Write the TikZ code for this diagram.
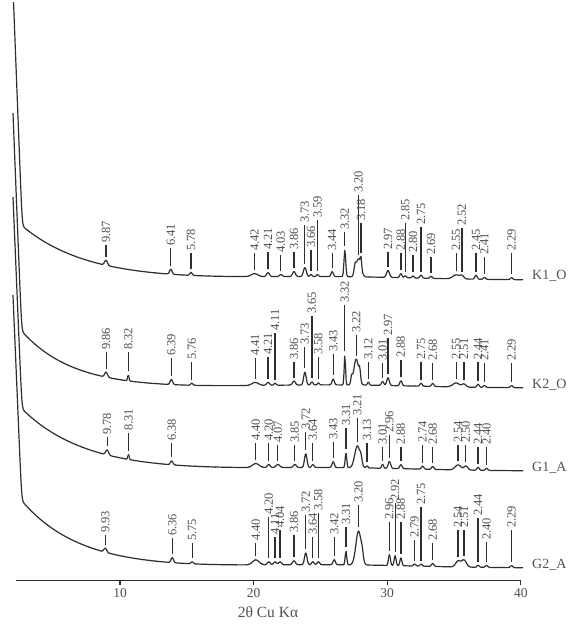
\documentclass[tikz,border=0pt]{standalone}
\usepackage{fontspec}
\setmainfont{Liberation Serif}
\definecolor{trace}{HTML}{2E2E2E}
\definecolor{tagtext}{HTML}{505050}
\tikzset{
  trace line/.style={draw=trace, line width=1.2pt, line join=round, line cap=round},
  peak mark/.style={draw=trace, line width=1.2pt},
  axis line/.style={draw=trace, line width=1.2pt},
  peak tag/.style={rotate=90, anchor=west, inner sep=1.5pt, text=tagtext, font=\fontsize{12.5}{14}\selectfont},
  sample tag/.style={anchor=west, inner sep=0pt, text=tagtext, font=\fontsize{14}{16}\selectfont},
  axis tag/.style={inner sep=0pt, text=tagtext, font=\fontsize{13.5}{15}\selectfont}
}
\newcommand\preppeaks[1]{%
  \gdef\tlist{0/0/1/-9/-9}%
  \foreach \d/\h/\w/\a in #1{%
    \pgfmathsetmacro\tpos{2*asin(0.7703/\d)}%
    \pgfmathsetmacro\tlo{\tpos-3*\w}%
    \pgfmathsetmacro\thi{\tpos+3*\w}%
    \xdef\tlist{\tlist,\tpos/\h/\w/\tlo/\thi}}}
\newcommand\nearsum[2]{%
  \gdef\peaksum{0}\gdef\npk{0}%
  \foreach \t/\h/\w/\tlo/\thi in \tlist{%
    \ifdim\thi pt>#1pt\relax\ifdim\tlo pt<#2pt\relax
      \xdef\peaksum{\unexpanded\expandafter{\peaksum}+\h*exp(-min(pow((\noexpand\x-\t)/\w,2),9))}%
      \gdef\npk{1}%
    \fi\fi}}
\newcommand\drawtrace{%
  \begin{scope}
    \clip (0,\ytop) rectangle (574,624);
    \draw[trace line] plot[domain=1.9:3.15, samples=45] ({13.36*\x-13.6},{\bgfull});
  \end{scope}
  \foreach \lo in {3.15,3.65,...,39.65}{%
    \pgfmathsetmacro\hi{\lo+0.5}%
    \nearsum{\lo}{\hi}%
    \ifnum\npk=1 \def\ns{10}\else\def\ns{3}\fi
    \draw[trace line] plot[domain=\lo:\hi, samples=\ns] ({13.36*\x-13.6},{\bg-(\peaksum)});}}
\newcommand\drawtags[1]{%
  \foreach \d/\h/\w/\a in #1{%
    \ifdim\a pt>0pt\relax
      \pgfmathsetmacro\x{2*asin(0.7703/\d)}%
      \pgfmathsetmacro\xl{\x-0.01}\pgfmathsetmacro\xh{\x+0.01}%
      \nearsum{\xl}{\xh}%
      \pgfmathsetmacro\xpos{13.36*\x-13.6}%
      \pgfmathsetmacro\ybot{\bg-(\peaksum)-3.5}%
      \draw[peak mark] (\xpos,\ybot) -- (\xpos,\a) node[peak tag] {\d};
    \fi}}
\begin{document}
\begin{tikzpicture}[x=1pt, y=-1pt,
  declare function={ramp(\myt,\myk)=0.04*(max((\myk-\myt)/0.04,0)+ln(1+exp(-min(abs((\myk-\myt)/0.04),9))));
                    decay(\myt,\mys)=exp(max((2.6-\myt)/\mys,-9));
                    hump(\myt)=3*exp(-pow((\myt-26)/9,2));}]
\useasboundingbox (0,0) rectangle (574,624);
\def\listKone{9.87/5/0.15/245, 6.41/5/0.13/248, 5.78/3/0.12/253, 4.42/3/0.35/253, 4.21/4/0.15/252, 4.03/2/0.15/255, 3.86/5/0.15/252, 3.73/9/0.15/225, 3.66/2/0.1/250, 3.59/2/0.1/220, 3.44/5/0.12/253, 3.32/27/0.09/232, 3.23/8/0.1/0, 3.20/18/0.25/195, 3.18/10/0.07/223, 2.97/7/0.15/252, 2.88/4/0.12/253, 2.85/2/0.1/223, 2.80/2/0.1/255, 2.75/3/0.12/227, 2.69/2/0.12/257, 2.55/4/0.35/253, 2.52/3/0.2/228, 2.45/4/0.12/253, 2.41/2/0.12/257, 2.29/2/0.12/253}
\def\listKtwo{9.86/5/0.15/352, 8.32/6/0.07/352, 6.39/5/0.13/358, 5.76/2/0.12/362, 4.41/3/0.35/358, 4.21/3/0.15/357, 4.11/2/0.12/333, 3.86/4/0.15/362, 3.73/13/0.13/347, 3.65/3/0.12/316, 3.58/2/0.1/357, 3.43/6/0.12/354, 3.32/30/0.07/305, 3.26/7/0.08/0, 3.22/26/0.25/335, 3.19/10/0.08/0, 3.12/3/0.1/362, 3.01/4/0.12/363, 2.97/8/0.13/338, 2.88/5/0.12/360, 2.75/3/0.12/362, 2.68/3/0.12/363, 2.55/4/0.35/362, 2.51/3/0.2/362, 2.44/3/0.12/362, 2.41/2/0.12/363, 2.29/2/0.12/363}
\def\listGone{9.78/5/0.15/437, 8.31/5/0.07/433, 6.38/4/0.13/443, 4.40/4/0.35/443, 4.20/3/0.15/443, 4.07/3/0.2/445, 3.85/3/0.15/445, 3.72/14/0.13/432, 3.64/3/0.12/443, 3.43/6/0.12/442, 3.31/15/0.08/428, 3.21/22/0.28/418, 3.18/6/0.1/0, 3.13/2/0.1/443, 3.01/4/0.1/447, 2.96/7/0.13/435, 2.88/4/0.12/447, 2.74/3/0.12/445, 2.68/3/0.12/447, 2.54/5/0.3/445, 2.50/4/0.2/445, 2.44/3/0.12/447, 2.40/2/0.12/447}
\def\listGtwo{9.93/4/0.15/535, 6.36/5/0.13/538, 5.75/2/0.12/543, 4.40/5/0.35/543, 4.20/3/0.15/517, 4.11/3/0.15/537, 4.04/3/0.15/530, 3.86/4/0.15/535, 3.72/12/0.13/515, 3.64/3/0.12/537, 3.58/3/0.12/513, 3.42/5/0.12/537, 3.31/14/0.08/527, 3.20/34/0.28/505, 3.17/6/0.1/0, 2.96/11/0.1/522, 2.92/10/0.1/503, 2.88/8/0.1/522, 2.79/2/0.12/540, 2.75/2/0.12/507, 2.68/3/0.12/543, 2.54/6/0.25/530, 2.51/7/0.25/530, 2.44/2/0.12/518, 2.40/2/0.12/542, 2.29/2/0.12/530}

\preppeaks\listKone
\def\ytop{2}
\def\bg{280-55*decay(\x,4.8)-hump(\x)}
\def\bgfull{\bg-333*ramp(\x,2.68)}
\drawtrace
\drawtags\listKone
\node[sample tag] (k1o) at (532,276) {K1\_O};

\preppeaks\listKtwo
\def\ytop{113}
\def\bg{388-57.5*decay(\x,3.8)-hump(\x)}
\def\bgfull{\bg-319*ramp(\x,2.64)}
\drawtrace
\drawtags\listKtwo
\node[sample tag] (k2o) at (532,385) {K2\_O};

\preppeaks\listGone
\def\ytop{197}
\def\bg{471-63*decay(\x,4.7)-hump(\x)}
\def\bgfull{\bg-302*ramp(\x,2.66)}
\drawtrace
\drawtags\listGone
\node[sample tag] (g1a) at (532,468) {G1\_A};

\preppeaks\listGtwo
\def\ytop{295}
\def\bg{568-68*decay(\x,4.3)-hump(\x)}
\def\bgfull{\bg-297*ramp(\x,2.645)}
\drawtrace
\drawtags\listGtwo
\node[sample tag] (g2a) at (532,565) {G2\_A};

\draw[axis line] (16,580.5) -- (521,580.5);
\foreach \v in {10,20,30,40} {
  \draw[axis line] ({13.36*\v-13.6},580.5) -- ++(0,4.5);
  \node[axis tag] (tick\v) at ({13.36*\v-13.6},593) {\v};
}
\node[axis tag, font=\fontsize{15.5}{17}\selectfont] (xtitle) at (268,612) {2θ Cu Kα};
\end{tikzpicture}
\end{document}
